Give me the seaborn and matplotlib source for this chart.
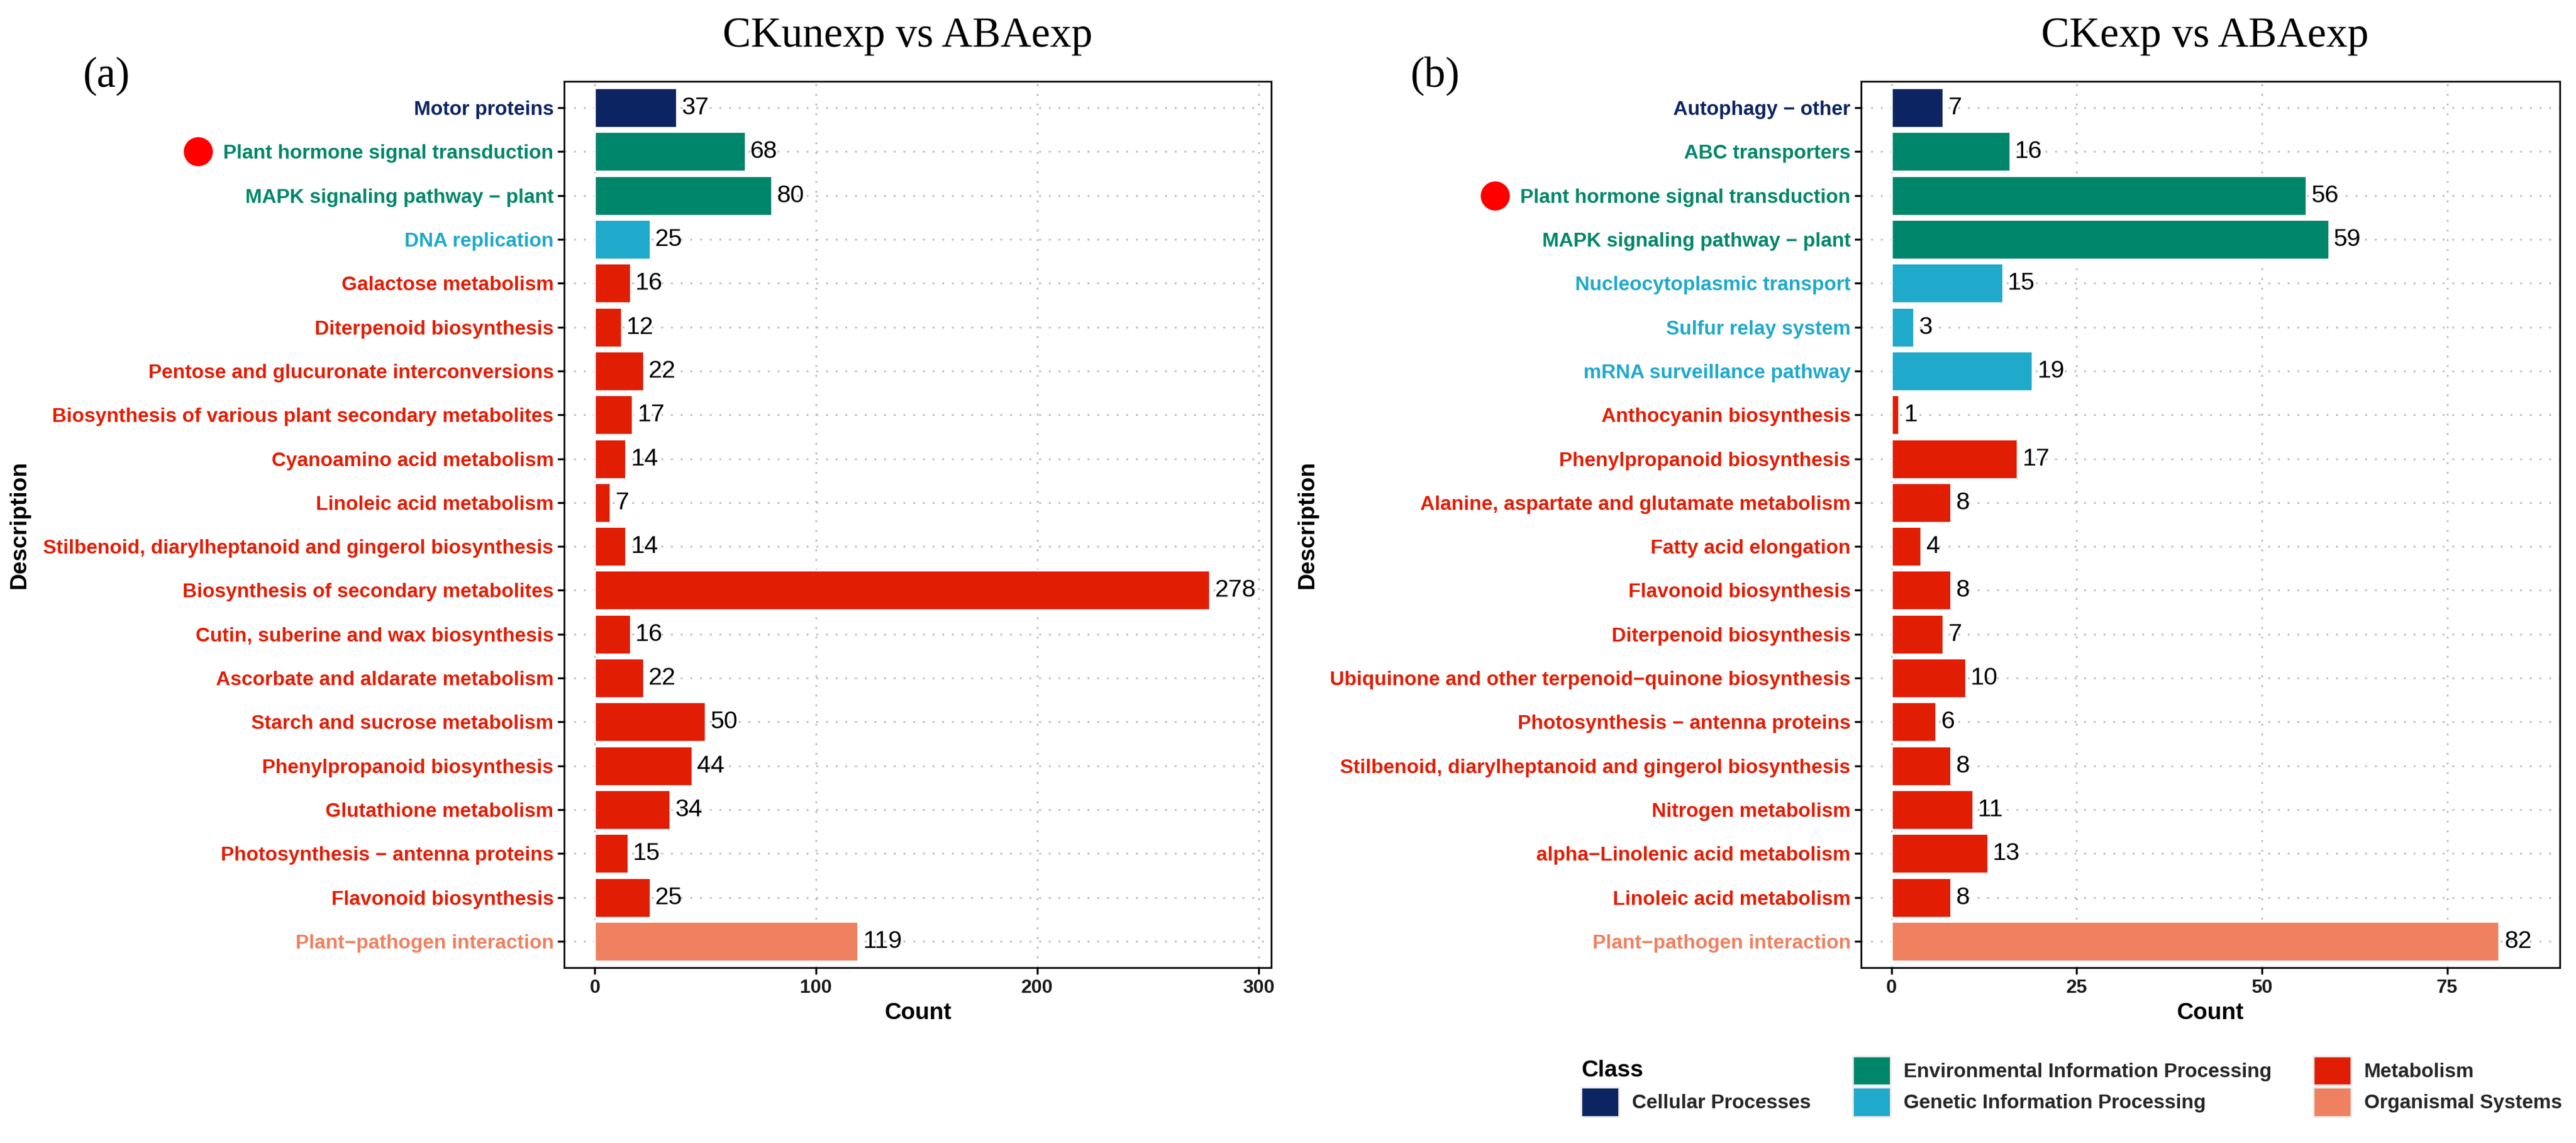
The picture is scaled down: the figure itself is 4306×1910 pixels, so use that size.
import matplotlib
matplotlib.use("Agg")
import numpy as np
import pandas as pd
import matplotlib.pyplot as plt
import seaborn as sns
from matplotlib.patches import Patch
from matplotlib.transforms import blended_transform_factory

# ---------------- data ----------------
class_order = ["Cellular Processes", "Environmental Information Processing",
               "Genetic Information Processing", "Metabolism", "Organismal Systems"]
class_colors = ["#0C2461", "#00866A", "#1FA9CB", "#E11E03", "#EF8160"]

left_title = "CKunexp vs ABAexp"
left_desc = [
    "Motor proteins",
    "Plant hormone signal transduction",
    "MAPK signaling pathway \u2212 plant",
    "DNA replication",
    "Galactose metabolism",
    "Diterpenoid biosynthesis",
    "Pentose and glucuronate interconversions",
    "Biosynthesis of various plant secondary metabolites",
    "Cyanoamino acid metabolism",
    "Linoleic acid metabolism",
    "Stilbenoid, diarylheptanoid and gingerol biosynthesis",
    "Biosynthesis of secondary metabolites",
    "Cutin, suberine and wax biosynthesis",
    "Ascorbate and aldarate metabolism",
    "Starch and sucrose metabolism",
    "Phenylpropanoid biosynthesis",
    "Glutathione metabolism",
    "Photosynthesis \u2212 antenna proteins",
    "Flavonoid biosynthesis",
    "Plant\u2212pathogen interaction",
]
left_counts = [37, 68, 80, 25, 16, 12, 22, 17, 14, 7, 14, 278, 16, 22, 50, 44, 34, 15, 25, 119]
left_class = (["Cellular Processes"]
              + ["Environmental Information Processing"] * 2
              + ["Genetic Information Processing"]
              + ["Metabolism"] * 15
              + ["Organismal Systems"])
left_xticks = [0, 100, 200, 300]

right_title = "CKexp vs ABAexp"
right_desc = [
    "Autophagy \u2212 other",
    "ABC transporters",
    "Plant hormone signal transduction",
    "MAPK signaling pathway \u2212 plant",
    "Nucleocytoplasmic transport",
    "Sulfur relay system",
    "mRNA surveillance pathway",
    "Anthocyanin biosynthesis",
    "Phenylpropanoid biosynthesis",
    "Alanine, aspartate and glutamate metabolism",
    "Fatty acid elongation",
    "Flavonoid biosynthesis",
    "Diterpenoid biosynthesis",
    "Ubiquinone and other terpenoid\u2212quinone biosynthesis",
    "Photosynthesis \u2212 antenna proteins",
    "Stilbenoid, diarylheptanoid and gingerol biosynthesis",
    "Nitrogen metabolism",
    "alpha\u2212Linolenic acid metabolism",
    "Linoleic acid metabolism",
    "Plant\u2212pathogen interaction",
]
right_counts = [7, 16, 56, 59, 15, 3, 19, 1, 17, 8, 4, 8, 7, 10, 6, 8, 11, 13, 8, 82]
right_class = (["Cellular Processes"]
               + ["Environmental Information Processing"] * 3
               + ["Genetic Information Processing"] * 3
               + ["Metabolism"] * 12
               + ["Organismal Systems"])
right_xticks = [0, 25, 50, 75]

highlight = "Plant hormone signal transduction"

# ---------------- style ----------------
sns.set_theme(style="white")
plt.rcParams["font.family"] = ["Liberation Sans", "DejaVu Sans"]
SERIF = ["Liberation Serif", "DejaVu Serif"]

W, H, DPI = 4306, 1910, 200
fig = plt.figure(figsize=(W / DPI, H / DPI), dpi=DPI)
palette = dict(zip(class_order, class_colors))


def rect_px(x0, x1, y0, y1):
    return [x0 / W, 1 - y1 / H, (x1 - x0) / W, (y1 - y0) / H]


def panel(box, desc, counts, classes, title, xticks, title_x, ylab_x, dot_x, letter, letter_x):
    x0, x1, y0, y1 = box
    ax = fig.add_axes(rect_px(*box))
    df = pd.DataFrame({"Description": desc, "Count": counts, "Class": classes})
    sns.barplot(data=df, x="Count", y="Description", hue="Class",
                hue_order=class_order, palette=palette, order=desc,
                dodge=False, width=0.9, saturation=1, legend=False,
                ax=ax, zorder=2)
    mx = max(counts)
    ax.set_xlim(-0.05 * mx, 1.1 * mx)
    ax.set_ylim(len(desc) - 0.4, -0.6)
    ax.set_xticks(xticks)

    ax.set_axisbelow(True)
    dots = (0, (1.0, 4.3))
    ax.grid(axis="x", color="#BEBEBE", linestyle=dots, linewidth=1.1)
    ax.grid(axis="y", color="#BEBEBE", linestyle=dots, linewidth=1.1)
    for s in ax.spines.values():
        s.set_visible(True)
        s.set_color("black")
        s.set_linewidth(1.0)

    ax.tick_params(axis="both", bottom=True, left=True, length=3.8, width=1.2,
                   color="black", direction="out")
    ax.tick_params(axis="x", labelsize=11.5, pad=3, labelcolor="#1A1A1A")
    ax.tick_params(axis="y", labelsize=12, pad=2.5)
    for lab in ax.get_xticklabels():
        lab.set_fontweight("bold")
    cmap = dict(zip(desc, classes))
    for lab in ax.get_yticklabels():
        lab.set_fontweight("bold")
        lab.set_color(palette[cmap[lab.get_text()]])

    for c in ax.containers:
        labels = ["" if np.isnan(v) else f"{v:.0f}" for v in c.datavalues]
        ax.bar_label(c, labels=labels, padding=3, fontsize=14.8, color="black")

    ax.set_xlabel("Count", fontsize=14, fontweight="bold", color="black")
    ax.xaxis.label.set_va("center")
    ax.xaxis.set_label_coords(0.5, (y1 - 1693) / (y1 - y0))
    ax.set_ylabel("Description", fontsize=14, fontweight="bold", color="black")
    ax.yaxis.label.set_va("center")
    ax.yaxis.set_label_coords((ylab_x - x0) / (x1 - x0), 0.5)

    ax.set_title(title, fontsize=25.5, family=SERIF, pad=21, x=title_x, color="black")

    trans = blended_transform_factory(fig.transFigure, ax.transData)
    ax.plot([dot_x / W], [desc.index(highlight)], "o", color="#FF0000",
            markersize=16.5, transform=trans, clip_on=False, zorder=5)

    fig.text(letter_x / W, 1 - 127 / H, letter, fontsize=25.5, family=SERIF,
             ha="center", va="center", color="black")
    return ax


panel((943, 2125, 136, 1617), left_desc, left_counts, left_class, left_title,
      left_xticks, 0.486, 32, 331, "(a)", 178)
panel((3111, 4279, 136, 1617), right_desc, right_counts, right_class, right_title,
      right_xticks, 0.492, 2185, 2499, "(b)", 2399)

# ---------------- legend ----------------
handles = [Patch(facecolor="none", edgecolor="none")] + [
    Patch(facecolor=palette[c], edgecolor="#EBEBEB", linewidth=1) for c in class_order]
labels = [""] + class_order
fig.legend(handles, labels, ncol=3, loc="upper left",
           bbox_to_anchor=(2643 / W, 1 - 1765 / H), frameon=False,
           borderpad=0, borderaxespad=0, handlelength=1.89, handleheight=1.86,
           handletextpad=0.66, columnspacing=2.1, labelspacing=0.12,
           prop={"weight": "bold", "size": 12})
fig.text(2643 / W, 1 - 1789 / H, "Class", fontsize=14, fontweight="bold",
         ha="left", va="center", color="black")

fig.savefig("out.png", dpi=DPI, facecolor="white")
